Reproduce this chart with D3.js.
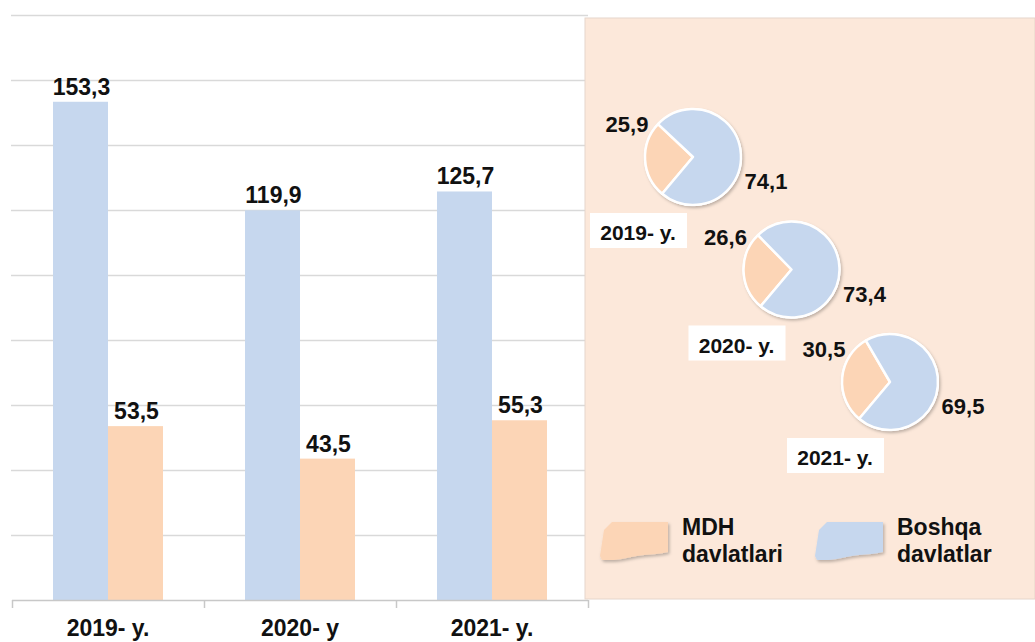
<!DOCTYPE html>
<html>
<head>
<meta charset="utf-8">
<script src="https://cdn.jsdelivr.net/npm/d3@7"></script>
<style>
	html, body { margin: 0; padding: 0; background: #ffffff; }
	svg { display: block; }
	text { font-family: "Liberation Sans", Arial, sans-serif; font-weight: bold; fill: #111; }
</style>
</head>
<body>
<svg id="chart" width="1035" height="642"></svg>
<script>
// data
const years = ["2019- y.", "2020- y", "2021- y."];
const boshqaValues = [153.3, 119.9, 125.7];
const mdhValues = [53.5, 43.5, 55.3];

const pieYears = ["2019- y.", "2020- y.", "2021- y."];
const pieMdh = [25.9, 26.6, 30.5];
const pieBoshqa = [74.1, 73.4, 69.5];

const seriesKeys = ["boshqa", "mdh"];
const legendLabels = [["MDH", "davlatlari"], ["Boshqa", "davlatlar"]];
const legendKeys = ["mdh", "boshqa"];

const colors = { boshqa: "#c6d7ee", mdh: "#fcd5b6" };

const svg = d3.select("#chart");
const fmt = d3.formatLocale({ decimal: ",", thousands: " ", grouping: [3], currency: ["", ""] }).format(".1f");

// shadows
const defs = svg.append("defs");
const sh = defs.append("filter").attr("id", "shadow")
	.attr("x", "-20%").attr("y", "-20%").attr("width", "150%").attr("height", "150%");
sh.append("feDropShadow").attr("dx", 1.5).attr("dy", 2).attr("stdDeviation", 1.5)
	.attr("flood-color", "#000").attr("flood-opacity", 0.25);

// scales
const x0 = d3.scaleBand().domain(years).range([12, 588]).padding(0);
const groupWidth = 110;
const x1 = d3.scaleBand().domain(seriesKeys).range([0, groupWidth]);
const y = d3.scaleLinear().domain([0, 180]).range([600, 15]);

// gridlines
svg.append("g").selectAll("line")
	.data(d3.range(20, 181, 20))
	.join("line")
	.attr("x1", 11).attr("x2", 588)
	.attr("y1", d => Math.round(y(d)) + 0.5)
	.attr("y2", d => Math.round(y(d)) + 0.5)
	.attr("stroke", "#d9d9d9")
	.attr("stroke-width", 1.5);

// bars
const rows = years.map((yr, i) => ({ year: yr, boshqa: boshqaValues[i], mdh: mdhValues[i] }));

const groups = svg.append("g").selectAll("g")
	.data(rows)
	.join("g")
	.attr("transform", d => `translate(${x0(d.year) + (x0.bandwidth() - groupWidth) / 2},0)`);

groups.selectAll("rect")
	.data(d => seriesKeys.map(k => ({ key: k, value: d[k] })))
	.join("rect")
	.attr("x", d => x1(d.key))
	.attr("width", x1.bandwidth())
	.attr("y", d => y(d.value))
	.attr("height", d => y(0) - y(d.value))
	.attr("fill", d => colors[d.key]);

groups.selectAll(".val")
	.data(d => seriesKeys.map(k => ({ key: k, value: d[k] })))
	.join("text")
	.attr("class", "val")
	.attr("x", d => x1(d.key) + x1.bandwidth() / 2 + 1)
	.attr("y", d => y(d.value) - 7)
	.attr("text-anchor", "middle")
	.style("font-size", "23px")
	.text(d => fmt(d.value));

// x axis
const axisG = svg.append("g");
axisG.append("line")
	.attr("x1", 12).attr("x2", 588)
	.attr("y1", 600.5).attr("y2", 600.5)
	.attr("stroke", "#c8c8c8").attr("stroke-width", 1.5);
axisG.selectAll(".tick")
	.data(years.map(d => x0(d)).concat([x0.range()[1]]))
	.join("line")
	.attr("class", "tick")
	.attr("x1", d => d + 0.5).attr("x2", d => d + 0.5)
	.attr("y1", 600).attr("y2", 608)
	.attr("stroke", "#c8c8c8").attr("stroke-width", 1.5);
axisG.selectAll("text")
	.data(years)
	.join("text")
	.attr("x", d => x0(d) + x0.bandwidth() / 2)
	.attr("y", 636)
	.attr("text-anchor", "middle")
	.style("font-size", "23px")
	.text(d => d);

// right panel
svg.append("rect")
	.attr("x", 585).attr("y", 18)
	.attr("width", 450).attr("height", 581)
	.attr("fill", "#fce8da")
	.attr("stroke", "#e6d6cb")
	.attr("stroke-width", 1);

// pies
const cx = d3.scalePoint().domain(pieYears).range([693, 890]);
const cy = d3.scalePoint().domain(pieYears).range([157, 382]);
const startA = 220 * Math.PI / 180;
const pie = d3.pie().sort(null).value(d => d.value)
	.startAngle(startA).endAngle(startA + 2 * Math.PI);
const arc = d3.arc().innerRadius(0).outerRadius(48);

const pies = svg.append("g").selectAll("g")
	.data(pieYears.map((yr, i) => ({ year: yr, mdh: pieMdh[i], boshqa: pieBoshqa[i] })))
	.join("g")
	.attr("transform", d => `translate(${cx(d.year)},${cy(d.year)})`);

pies.append("circle")
	.attr("r", 49)
	.attr("fill", "#fff")
	.attr("filter", "url(#shadow)");

pies.selectAll("path")
	.data(d => pie([{ key: "mdh", value: d.mdh }, { key: "boshqa", value: d.boshqa }]))
	.join("path")
	.attr("d", arc)
	.attr("fill", d => colors[d.data.key])
	.attr("stroke", "#fff")
	.attr("stroke-width", 2.5)
	.attr("stroke-linejoin", "round");

pies.append("text")
	.attr("x", -66).attr("y", -25)
	.attr("text-anchor", "middle")
	.style("font-size", "22px")
	.text(d => fmt(d.mdh));

pies.append("text")
	.attr("x", 73).attr("y", 32)
	.attr("text-anchor", "middle")
	.style("font-size", "22px")
	.text(d => fmt(d.boshqa));

pies.append("rect")
	.attr("x", -103).attr("y", 56)
	.attr("width", 97).attr("height", 35)
	.attr("fill", "#fff");

pies.append("text")
	.attr("x", -55).attr("y", 83)
	.attr("text-anchor", "middle")
	.style("font-size", "21px")
	.text(d => d.year);

// legend
const legendX = d3.scalePoint().domain(legendKeys).range([600, 815]);
const swatch = "M4,8 L12,0 L68,0 L68,30 C60,32 52,32 44,33 C34,34 24,37 14,38 L2,38 L0,34 Z";

const legend = svg.append("g").selectAll("g")
	.data(legendKeys)
	.join("g")
	.attr("transform", d => `translate(${legendX(d)},522)`);

legend.append("path")
	.attr("d", swatch)
	.attr("fill", d => colors[d])
	.attr("filter", "url(#shadow)");

legend.each(function (d, i) {
	const t = d3.select(this).append("text")
		.attr("x", 82).attr("y", 13)
		.style("font-size", "23px");
	t.selectAll("tspan")
		.data(legendLabels[i])
		.join("tspan")
		.attr("x", 82)
		.attr("dy", (s, j) => j === 0 ? 0 : 27)
		.text(s => s);
});
</script>
</body>
</html>
